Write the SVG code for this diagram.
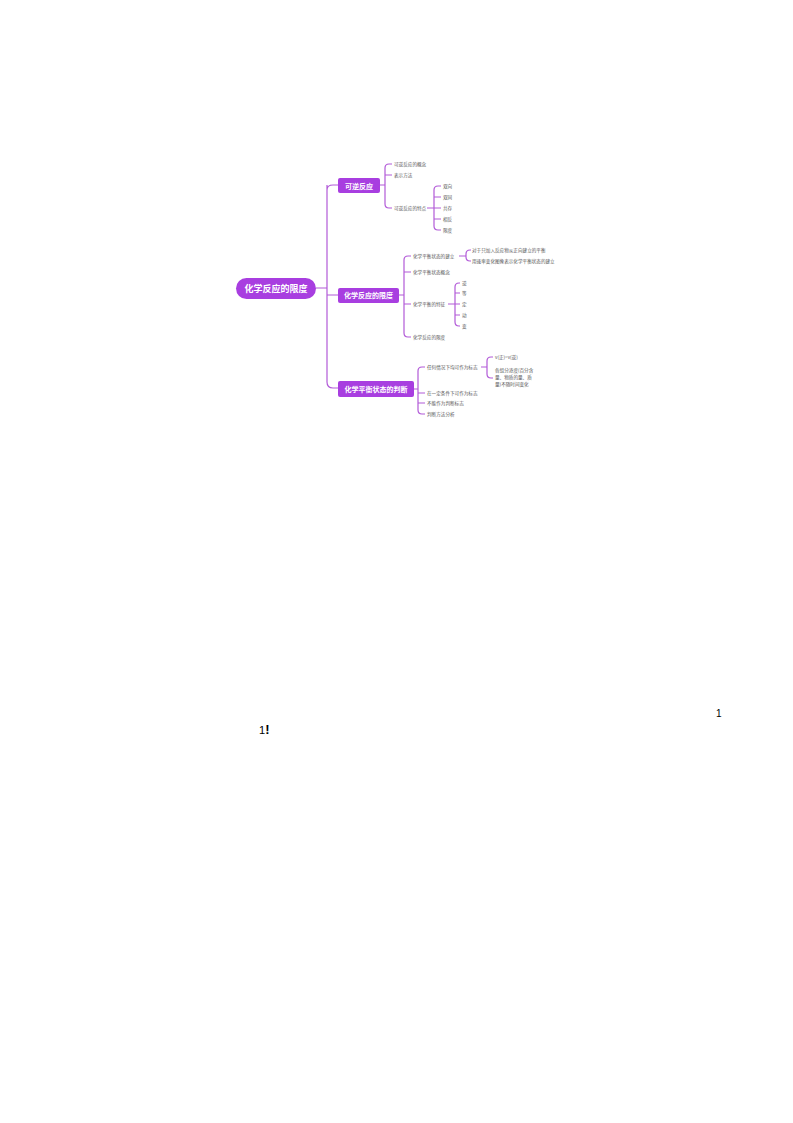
<svg xmlns="http://www.w3.org/2000/svg" width="793" height="1123" viewBox="0 0 793 1123">
<style>
.c{fill:none;stroke:#b25ad8;stroke-width:1.2}
.t{font-family:"Noto Sans CJK SC",sans-serif;font-size:4.6px;fill:#555}
.b{font-family:"Noto Sans CJK SC",sans-serif;font-size:7px;font-weight:bold;fill:#fff;text-anchor:middle}
.box{fill:#a83ee0}
</style>
<rect width="793" height="1123" fill="#fff"/>
<g id="connectors">
<path class="c" d="M316 288H327M327 185V382Q327 388 333 388H338M327 190Q327 185 333 185H338M327 295H338"/>
<path class="c" d="M380 185H385M385 168V204M385 168Q385 164 389 164H392M385 175H392M385 204Q385 208 389 208H392"/>
<path class="c" d="M427 208H434M434 190V226M434 190Q434 186 438 186H441M434 197H441M434 208H441M434 219H441M434 226Q434 230 438 230H441"/>
<path class="c" d="M399 295H404M404 260V333M404 260Q404 256 408 256H411M404 272H411M404 304H411M404 333Q404 337 408 337H411"/>
<path class="c" d="M459 256H466M466 254V257M466 254Q466 250 470 250H471M466 257Q466 261 470 261H471"/>
<path class="c" d="M448 304H455M455 287V322M455 287Q455 283 459 283H460M455 293H460M455 304H460M455 315H460M455 322Q455 326 459 326H460"/>
<path class="c" d="M414 389H418M418 371V410M418 371Q418 367 422 367H425M418 393H425M418 403H425M418 410Q418 414 422 414H425"/>
<path class="c" d="M481 367H487M487 361V374M487 361Q487 357 491 357H493M487 374Q487 378 491 378H493"/>
</g>
<g id="root"><rect x="236" y="278" width="80" height="21" rx="10.5" class="box"/><text x="276" y="291.5" class="b" style="font-size:9px">化学反应的限度</text></g>
<g id="n1"><rect x="338" y="178" width="42" height="15" rx="2" class="box"/><text x="359" y="188.5" class="b">可逆反应</text></g>
<g id="n2"><rect x="338" y="288" width="61" height="15" rx="2" class="box"/><text x="368.5" y="298" class="b">化学反应的限度</text></g>
<g id="n3"><rect x="338" y="381" width="76" height="16" rx="2" class="box"/><text x="376" y="391.5" class="b">化学平衡状态的判断</text></g>
<g id="leaves">
<text class="t" x="394" y="166">可逆反应的概念</text>
<text class="t" x="394" y="177">表示方法</text>
<text class="t" x="394" y="210">可逆反应的特点</text>
<text class="t" x="443" y="188">双向</text>
<text class="t" x="443" y="199">双同</text>
<text class="t" x="443" y="210">共存</text>
<text class="t" x="443" y="221">相反</text>
<text class="t" x="443" y="232">限度</text>
<text class="t" x="413" y="258">化学平衡状态的建立</text>
<text class="t" x="413" y="274">化学平衡状态概念</text>
<text class="t" x="413" y="306">化学平衡的特征</text>
<text class="t" x="413" y="339">化学反应的限度</text>
<text class="t" x="472" y="252">对于只加入反应物从正向建立的平衡</text>
<text class="t" x="472" y="263">用速率变化图像表示化学平衡状态的建立</text>
<text class="t" x="462" y="285">逆</text>
<text class="t" x="462" y="295">等</text>
<text class="t" x="462" y="306">定</text>
<text class="t" x="462" y="317">动</text>
<text class="t" x="462" y="328">变</text>
<text class="t" x="427" y="369">任何情况下均可作为标志</text>
<text class="t" x="427" y="395">在一定条件下可作为标志</text>
<text class="t" x="427" y="405">不能作为判断标志</text>
<text class="t" x="427" y="416">判断方法分析</text>
<text class="t" x="495" y="359">v(正)=v(逆)</text>
<text class="t" x="495" y="372">各组分浓度(百分含</text>
<text class="t" x="495" y="379">量、物质的量、质</text>
<text class="t" x="495" y="386">量)不随时间变化</text>
</g>
<text x="716" y="717" font-family="Liberation Sans,sans-serif" font-size="10" fill="#000">1</text>
<text x="259" y="734" font-family="Liberation Sans,sans-serif" font-size="11" fill="#000">1<tspan font-weight="bold" font-size="13">!</tspan></text>
</svg>
